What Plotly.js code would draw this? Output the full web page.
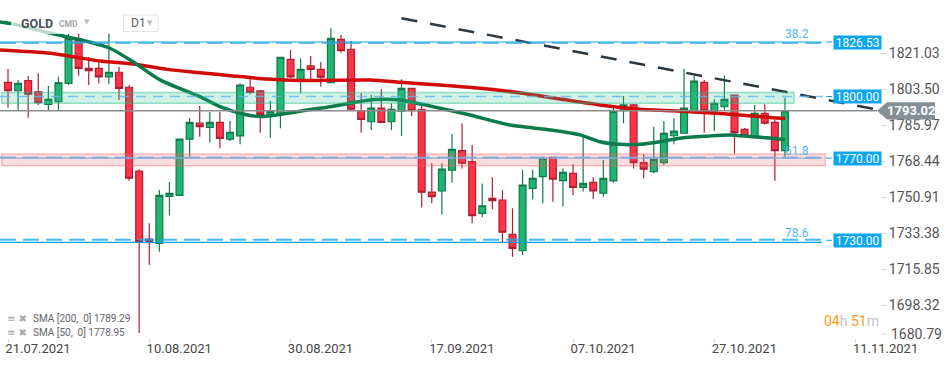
<!DOCTYPE html>
<html><head><meta charset="utf-8">
<script src="https://cdn.plot.ly/plotly-3.0.1.min.js"></script>
<style>html,body{margin:0;padding:0;background:#fff;}#chart{width:950px;height:365px;}</style>
</head><body><div id="chart"></div>
<script>
// ---- data ----
const open = [1806.9,1802.8,1807.7,1802.3,1796.2,1797.5,1806.4,1828.0,1813.7,1813.7,
1809.6,1811.8,1804.5,1763.7,1730.6,1728.5,1751.4,1751.9,1779.2,1787.0,
1785.0,1787.4,1779.2,1780.8,1804.5,1802.7,1791.0,1791.3,1818.1,1807.7,
1814.9,1813.2,1806.8,1827.8,1823.0,1793.1,1787.7,1794.3,1787.7,1792.9,
1804.0,1793.8,1753.4,1754.0,1764.2,1773.6,1768.3,1743.1,1750.4,1749.6,
1732.9,1724.9,1755.3,1761.0,1770.4,1759.0,1762.6,1755.8,1758.2,1752.9,
1758.9,1793.1,1795.9,1767.8,1763.4,1767.8,1780.9,1782.1,1793.1,1806.9,
1792.9,1795.0,1800.7,1784.0,1780.4,1791.8,1787.4,1773.6];
const high = [1813.4,1808.0,1810.0,1811.3,1805.1,1809.6,1830.4,1830.9,1819.2,1816.8,
1830.9,1814.5,1805.6,1764.6,1738.3,1754.5,1758.4,1779.3,1789.5,1795.4,
1792.5,1792.6,1788.1,1806.4,1808.9,1803.2,1797.8,1819.2,1822.6,1818.6,
1819.7,1816.8,1833.2,1829.9,1827.0,1801.6,1800.7,1803.5,1796.7,1808.4,
1804.1,1796.2,1767.5,1767.5,1781.7,1787.0,1776.4,1757.7,1760.7,1754.5,
1745.6,1764.2,1764.2,1770.7,1770.5,1765.0,1767.1,1781.3,1760.7,1769.1,
1795.0,1800.2,1796.3,1772.0,1785.3,1788.1,1789.4,1813.4,1810.1,1808.0,
1798.6,1810.1,1800.7,1784.7,1795.9,1796.2,1788.6,1799.4];
const low = [1794.5,1793.1,1789.7,1795.9,1793.4,1793.1,1805.6,1810.1,1805.6,1806.4,
1806.1,1798.3,1759.0,1684.9,1718.0,1724.4,1742.0,1751.6,1770.7,1780.4,
1777.5,1774.8,1778.3,1776.7,1801.1,1782.4,1779.9,1784.5,1808.9,1801.6,
1808.5,1804.8,1806.6,1821.3,1792.9,1782.4,1783.7,1787.1,1783.7,1780.8,
1790.5,1745.9,1748.0,1742.6,1758.0,1765.0,1738.3,1741.2,1745.1,1728.5,
1722.0,1722.8,1749.9,1748.0,1748.8,1746.4,1752.1,1753.7,1750.1,1751.2,
1758.0,1787.0,1765.0,1760.2,1762.6,1766.6,1776.7,1781.7,1792.9,1782.4,
1783.2,1792.9,1772.3,1780.8,1780.3,1786.3,1759.0,1770.7];
const close = [1802.8,1806.4,1801.1,1797.0,1798.6,1806.7,1828.3,1813.7,1812.6,1809.6,
1811.8,1804.0,1760.2,1729.3,1729.3,1751.9,1752.9,1779.2,1787.4,1785.3,
1787.4,1779.6,1782.6,1805.6,1802.0,1791.3,1792.6,1819.1,1809.6,1813.2,
1813.2,1809.4,1828.3,1822.3,1793.8,1788.9,1794.3,1787.4,1793.8,1804.0,
1793.1,1753.4,1751.2,1764.6,1774.3,1767.5,1742.0,1746.8,1749.3,1733.9,
1726.1,1756.9,1760.2,1769.9,1759.7,1763.1,1755.8,1757.7,1754.0,1760.2,
1792.6,1795.9,1767.8,1764.6,1769.4,1782.1,1783.2,1794.3,1807.5,1793.1,
1796.7,1798.6,1782.4,1780.9,1791.8,1787.0,1773.6,1793.02];

const sma200Idx = [-0.8,4.2,9.1,12.4,15.8,19.0,22.3,25.7,28.9,35.9,38.9,42.8,46.8,50.8,54.7,58.7,62.6,65.9,69.3,72.5,75.8,77];
const sma200    = [1822.6,1821.0,1817.3,1815.8,1813.2,1811.6,1810.0,1808.5,1807.8,1808.0,1806.9,1805.6,1804.0,1801.7,1798.8,1795.9,1793.8,1793.1,1792.1,1791.0,1789.7,1789.29];
const sma50Idx = [-0.8,0.2,4.16,7.93,10.11,12.39,15.06,19.03,21.01,23.29,24.98,27.65,29.63,31.91,34.19,36.37,38.85,41.82,45.79,49.75,52.03,53.72,56.69,58.67,60.65,62.64,64.62,66.6,69.28,71.56,73.54,75.22,77];
const sma50    = [1836.3,1835.6,1830.9,1826.7,1823.5,1816.9,1808.1,1799.9,1795.1,1791.5,1790.2,1791.8,1793.4,1795.0,1797.0,1798.5,1798.3,1795.4,1791.0,1786.1,1784.7,1783.7,1781.3,1778.0,1776.7,1776.7,1778.0,1779.7,1780.7,1781.3,1780.5,1779.9,1778.95];

const trendIdx = [39.0, 86.1];
const trendVal = [1838.1, 1793.7];

const levelVals  = [1826.53, 1800.00, 1770.00, 1730.00];
const fibNames   = ['38.2', '61.8', '78.6'];
const greenZone  = [1796.7, 1802.0];
const redZone    = [1766.3, 1772.0];
const lastPrice  = 1793.02;
const yTickVals  = [1821.03, 1803.50, 1785.97, 1768.44, 1750.91, 1733.38, 1715.85, 1698.32];
const yBottomTick = 1680.79;
const xTickIdx   = [0, 14, 28, 42, 56, 70, 84];
const xTickText  = ['21.07.2021','10.08.2021','30.08.2021','17.09.2021','07.10.2021','27.10.2021','11.11.2021'];
const legendRows = [['SMA [200,  0]', 1789.29], ['SMA [50,  0]', 1778.95]];

// ---- layout geometry ----
const W = 950, H = 365, MR = 70, MB = 27;
const PW = W - MR, PH = H - MB;
const pxX = p => p / PW;
const pxY = p => 1 - p / PH;
const FONT = 'Roboto, Arial, sans-serif';
const idx = open.map((_, i) => i);

const traces = [
  {type:'candlestick', x: idx, open, high, low, close,
   increasing:{line:{color:'#127a4b', width:1.2}, fillcolor:'#22b473'},
   decreasing:{line:{color:'#b01e34', width:1.2}, fillcolor:'#fd3348'},
   whiskerwidth:0, hoverinfo:'skip', showlegend:false},
  {type:'scatter', mode:'lines', x: sma200Idx, y: sma200,
   line:{color:'#d10a0a', width:3.5, shape:'spline', smoothing:0.7}, hoverinfo:'skip', showlegend:false},
  {type:'scatter', mode:'lines', x: sma50Idx, y: sma50,
   line:{color:'#0b7b4c', width:3.5, shape:'spline', smoothing:0.7}, hoverinfo:'skip', showlegend:false},
  {type:'scatter', mode:'lines', x: trendIdx, y: trendVal,
   line:{color:'#2c3841', width:2.5, dash:'16px,13px'}, hoverinfo:'skip', showlegend:false}
];

const shapes = [];
const annotations = [];
const hline = (y, x1px, color, width, dash) => shapes.push({type:'line', xref:'paper', yref:'y', x0:0, x1:pxX(x1px), y0:y, y1:y, line:{color, width, dash: dash || 'solid'}});

// zones
shapes.push({type:'rect', xref:'x', yref:'y', x0:-0.62, x1:77.9, y0:greenZone[0], y1:greenZone[1],
  fillcolor:'rgba(40,190,140,0.22)', line:{color:'rgba(40,190,140,0.45)', width:1.5}});
shapes.push({type:'rect', xref:'x', yref:'y', x0:-0.62, x1:81.0, y0:redZone[0], y1:redZone[1],
  fillcolor:'rgba(240,90,90,0.2)', line:{color:'rgba(240,100,100,0.4)', width:1.5}});

// level lines
hline(levelVals[0], 822, '#1a9fe0', 1.2);
hline(levelVals[0] - 0.5, 822, 'rgba(40,170,235,0.7)', 2, '16px,7px');
hline(levelVals[1], 823, 'rgba(90,185,230,0.8)', 1.5, '10px,7px');
hline(levelVals[2], 822, '#86acdf', 1.2);
hline(levelVals[2] + 0.3, 822, 'rgba(120,165,225,0.75)', 2, '16px,7px');
hline(levelVals[3] + 0.2, 822, 'rgba(25,170,240,0.8)', 2, '16px,7px');
hline(levelVals[3] - 1.0, 822, '#0aa0e8', 1.2);
hline(lastPrice, 877, '#8c8c8c', 1.5);

// header veil
shapes.push({type:'rect', xref:'paper', yref:'paper', x0:pxX(11), x1:pxX(170), y0:pxY(34), y1:pxY(10),
  fillcolor:'rgba(255,255,255,0.72)', line:{width:0}});
// D1 box
shapes.push({type:'rect', xref:'paper', yref:'paper', x0:pxX(123.5), x1:pxX(158), y0:pxY(31.5), y1:pxY(15),
  fillcolor:'#ffffff', line:{color:'#e2e2e2', width:1}});

// level label boxes
levelVals.forEach(v => {
  shapes.push({type:'line', xref:'paper', yref:'y', x0:pxX(826), x1:pxX(832), y0:v, y1:v, line:{color:'#1aa3e8', width:1}});
  annotations.push({xref:'paper', yref:'y', x:pxX(857), y:v, text:v.toFixed(2), showarrow:false,
    font:{family:FONT, size:12, color:'#ffffff'}, bgcolor:'#0ba6ee', width:46, height:12, borderpad:0.6, xanchor:'center', yanchor:'middle'});
});
// fib labels
[[34, fibNames[0]], [151, fibNames[1]], [233, fibNames[2]]].forEach(([yp, t]) => {
  annotations.push({xref:'paper', yref:'paper', x:pxX(797), y:pxY(yp), text:t, showarrow:false,
    font:{family:FONT, size:12, color:'#4db8ef'}, xanchor:'center', yanchor:'middle'});
});

// last price tag
const hh = 8.7 * (164.56 / PH);
const ppath = `M ${pxX(877)},${lastPrice} L ${pxX(887)},${lastPrice + hh} L ${pxX(935)},${lastPrice + hh} L ${pxX(935)},${lastPrice - hh} L ${pxX(887)},${lastPrice - hh} Z`;
shapes.push({type:'path', xref:'paper', yref:'y', path:ppath, fillcolor:'#859096', line:{width:0}});
annotations.push({xref:'paper', yref:'y', x:pxX(911), y:lastPrice, text:'<b>' + lastPrice.toFixed(2) + '</b>', showarrow:false,
  font:{family:FONT, size:13, color:'#ffffff'}, xanchor:'center', yanchor:'middle'});

// bottom y tick label (clamped in reference)
shapes.push({type:'line', xref:'paper', yref:'paper', x0:pxX(882), x1:pxX(887), y0:pxY(334), y1:pxY(334), line:{color:'#d8d8d8', width:1}});
annotations.push({xref:'paper', yref:'paper', x:pxX(889), y:pxY(334), text:yBottomTick.toFixed(2), showarrow:false,
  font:{family:FONT, size:14, color:'#555'}, xanchor:'left', yanchor:'middle'});

// header texts
annotations.push({xref:'paper', yref:'paper', x:pxX(19), y:pxY(23), text:'<b>GOLD</b>', showarrow:false, font:{family:FONT, size:12.5, color:'#4b5157'}, xanchor:'left', yanchor:'middle'});
annotations.push({xref:'paper', yref:'paper', x:pxX(57), y:pxY(24), text:'<b>CMD</b>', showarrow:false, font:{family:FONT, size:8.5, color:'#a3a7ab'}, xanchor:'left', yanchor:'middle'});
annotations.push({xref:'paper', yref:'paper', x:pxX(87), y:pxY(22.5), text:'▼', showarrow:false, font:{family:'DejaVu Sans', size:7, color:'#bdbdbd'}, xanchor:'center', yanchor:'middle'});
annotations.push({xref:'paper', yref:'paper', x:pxX(128.5), y:pxY(23.5), text:'D1', showarrow:false, font:{family:FONT, size:12, color:'#555b60'}, xanchor:'left', yanchor:'middle'});
annotations.push({xref:'paper', yref:'paper', x:pxX(150), y:pxY(23.5), text:'▼', showarrow:false, font:{family:'DejaVu Sans', size:7, color:'#bdbdbd'}, xanchor:'center', yanchor:'middle'});
shapes.push({type:'line', xref:'paper', yref:'paper', x0:pxX(6), x1:pxX(10), y0:pxY(23.5), y1:pxY(23.5), line:{color:'#0b7b4c', width:2.5}});

// legend rows
legendRows.forEach((r, k) => {
  const yp = 318 + 14 * k;
  annotations.push({xref:'paper', yref:'paper', x:pxX(5), y:pxY(yp), text:'≡ ✖', showarrow:false,
    font:{family:'DejaVu Sans', size:10, color:'#a9a9a9'}, xanchor:'left', yanchor:'middle'});
  annotations.push({xref:'paper', yref:'paper', x:pxX(31), y:pxY(yp), text:r[0] + ' ' + r[1].toFixed(2), showarrow:false,
    font:{family:FONT, size:10, color:'#5f6468'}, xanchor:'left', yanchor:'middle'});
});

// countdown
annotations.push({xref:'paper', yref:'paper', x:pxX(822), y:pxY(320.5),
  text:'<span style="color:#ff9a1a">04</span><span style="color:#c3c3c3">h </span><span style="color:#ff9a1a">51</span><span style="color:#c3c3c3">m</span>',
  showarrow:false, font:{family:FONT, size:14}, xanchor:'left', yanchor:'middle'});

const layout = {
  width: W, height: H,
  margin: {l:0, r:MR, t:0, b:MB, pad:0},
  paper_bgcolor:'#ffffff', plot_bgcolor:'#ffffff',
  showlegend:false,
  boxgap:0.32, boxgroupgap:0,
  xaxis: {range:[-0.793, 86.42], tickvals:xTickIdx, ticktext:xTickText, ticks:'outside', ticklen:4, tickcolor:'#dddddd',
          ticklabelshift:30, ticklabelstandoff:-6, tickfont:{family:FONT, size:13, color:'#454545'}, showgrid:false, zeroline:false, showline:false,
          rangeslider:{visible:false}, fixedrange:true},
  yaxis: {side:'right', range:[1682.42, 1846.98], tickvals:yTickVals, ticktext:yTickVals.map(v => v.toFixed(2)),
          ticks:'outside', ticklen:5, tickcolor:'#d8d8d8', tickfont:{family:FONT, size:14, color:'#555'},
          showgrid:false, zeroline:false, showline:false, fixedrange:true},
  shapes, annotations,
  font:{family:FONT}
};

Plotly.newPlot('chart', traces, layout, {staticPlot:true, displayModeBar:false});
</script></body></html>
